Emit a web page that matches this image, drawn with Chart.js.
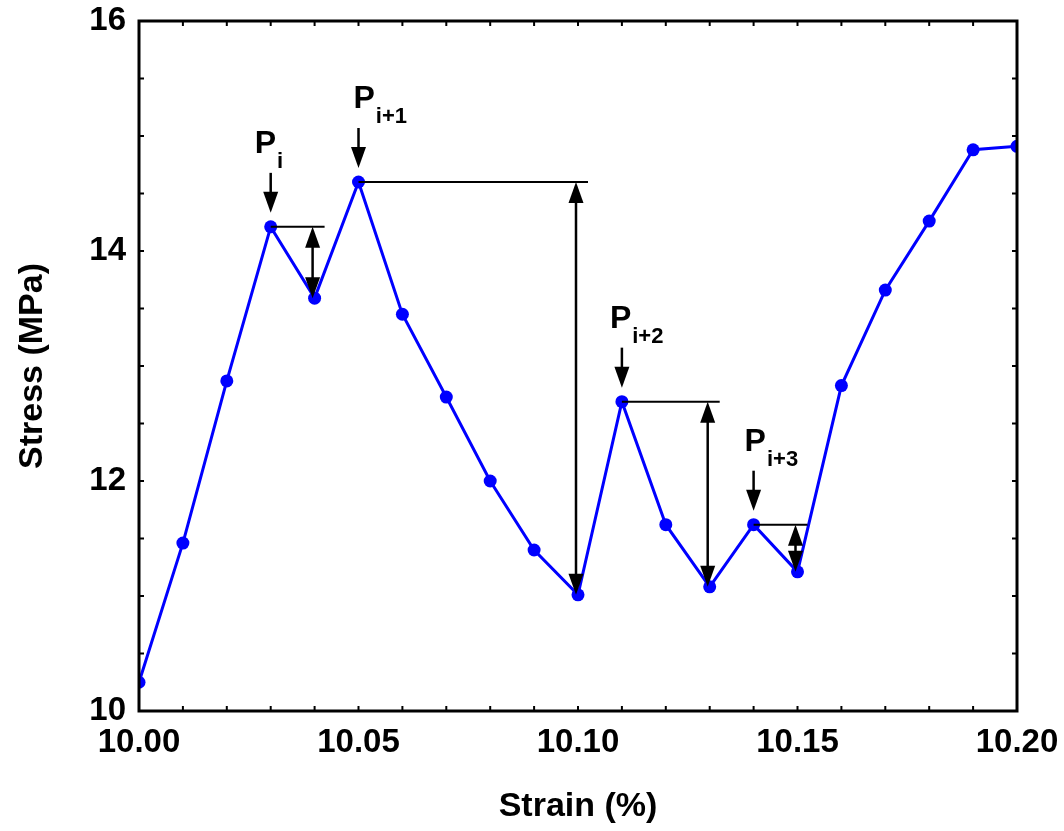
<!DOCTYPE html>
<html lang="en">
<head>
  <meta charset="UTF-8">
  <title>Stress vs Strain</title>
  <script src="https://cdn.jsdelivr.net/npm/chart.js"></script>
  <style>
    html, body { margin: 0; padding: 0; background: #fff; }
    #wrap { width: 1064px; height: 831px; }
  </style>
</head>
<body>
  <div id="wrap"><canvas id="stressChart" width="1064" height="831"></canvas></div>

  <script>
    // measured curve
    const strain = [10.00, 10.01, 10.02, 10.03, 10.04, 10.05, 10.06, 10.07, 10.08, 10.09, 10.10,
                    10.11, 10.12, 10.13, 10.14, 10.15, 10.16, 10.17, 10.18, 10.19, 10.20];
    const stress = [10.25, 11.46, 12.87, 14.21, 13.59, 14.60, 13.45, 12.73, 12.00, 11.40, 11.01,
                    12.69, 11.62, 11.08, 11.62, 11.21, 12.83, 13.66, 14.26, 14.88, 14.91];

    // stress drops: peak index -> following valley index
    const peakIdx = [3, 5, 11, 14];
    const valleyIdx = [4, 10, 13, 15];
    const peakSubs = ['i', 'i+1', 'i+2', 'i+3'];

    const xTicks = [10.00, 10.05, 10.10, 10.15, 10.20];
    const yTicks = [10, 12, 14, 16];

    const FONT = '"Liberation Sans", Arial, sans-serif';

    function drawArrowHead(ctx, x, y, dir) {
      // dir = 1 pointing down, -1 pointing up
      ctx.beginPath();
      ctx.moveTo(x, y);
      ctx.lineTo(x - 7.5, y - dir * 21);
      ctx.lineTo(x + 7.5, y - dir * 21);
      ctx.closePath();
      ctx.fill();
    }

    const framePlugin = {
      id: 'frame',
      afterDatasetsDraw(chart) {
        const { ctx, chartArea: a, scales: { x, y } } = chart;
        ctx.save();
        ctx.strokeStyle = '#000';
        ctx.fillStyle = '#000';

        // inside ticks on all four sides
        ctx.lineWidth = 2;
        for (let v = 10; v <= 10.2001; v += 0.01) {
          const px = x.getPixelForValue(v);
          ctx.beginPath();
          ctx.moveTo(px, a.bottom); ctx.lineTo(px, a.bottom - 5);
          ctx.moveTo(px, a.top); ctx.lineTo(px, a.top + 5);
          ctx.stroke();
        }
        for (let v = 10; v <= 16.001; v += 0.5) {
          const py = y.getPixelForValue(v);
          ctx.beginPath();
          ctx.moveTo(a.left, py); ctx.lineTo(a.left + 5, py);
          ctx.moveTo(a.right, py); ctx.lineTo(a.right - 5, py);
          ctx.stroke();
        }

        // drop annotations
        const labelOffset = [-16, -5, -12, -9];
        peakIdx.forEach((pi, k) => {
          const vi = valleyIdx[k];
          const px = x.getPixelForValue(strain[pi]);
          const py = y.getPixelForValue(stress[pi]);
          const vx = x.getPixelForValue(strain[vi]) - 2;
          const vy = y.getPixelForValue(stress[vi]);

          // horizontal reference line
          ctx.lineWidth = 2;
          ctx.beginPath();
          ctx.moveTo(px, py);
          ctx.lineTo(vx + 12, py);
          ctx.stroke();

          // double arrow for the drop
          ctx.lineWidth = 2.5;
          ctx.beginPath();
          ctx.moveTo(vx, py + 18);
          ctx.lineTo(vx, vy - 18);
          ctx.stroke();
          drawArrowHead(ctx, vx, py, -1);
          drawArrowHead(ctx, vx, vy, 1);

          // marker arrow above the peak
          const tip = py - 14;
          ctx.beginPath();
          ctx.moveTo(px, tip - 40);
          ctx.lineTo(px, tip - 18);
          ctx.stroke();
          drawArrowHead(ctx, px, tip, 1);

          // P_sub label
          const lx = px + labelOffset[k];
          const base = tip - 60;
          ctx.textAlign = 'left';
          ctx.textBaseline = 'alphabetic';
          ctx.font = 'bold 32px ' + FONT;
          ctx.fillText('P', lx, base);
          const w = ctx.measureText('P').width;
          ctx.font = 'bold 22px ' + FONT;
          ctx.fillText(peakSubs[k], lx + w + 1, base + 15);
        });

        // frame
        ctx.lineWidth = 3;
        ctx.strokeRect(a.left, a.top, a.right - a.left, a.bottom - a.top);
        ctx.restore();
      }
    };

    new Chart(document.getElementById('stressChart'), {
      type: 'line',
      data: {
        datasets: [{
          data: strain.map((s, i) => ({ x: s, y: stress[i] })),
          borderColor: '#0000ff',
          backgroundColor: '#0000ff',
          borderWidth: 3,
          pointRadius: 6.5,
          pointHoverRadius: 6.5,
          pointBorderWidth: 0,
          tension: 0,
          clip: 0
        }]
      },
      options: {
        responsive: false,
        animation: false,
        events: [],
        layout: { padding: { top: 21, right: 47, left: 0, bottom: 0 } },
        plugins: { legend: { display: false }, tooltip: { enabled: false } },
        scales: {
          x: {
            type: 'linear',
            min: 10, max: 10.2,
            afterBuildTicks(scale) { scale.ticks = xTicks.map(v => ({ value: v })); },
            afterFit(scale) {
              scale.height = 120;
              scale.paddingLeft = 0;
              scale.paddingRight = 0;
            },
            grid: { display: false, drawTicks: false },
            border: { display: false },
            ticks: {
              color: '#000',
              padding: 12,
              maxRotation: 0,
              font: { family: FONT, size: 33, weight: 'bold' },
              callback: v => v.toFixed(2)
            },
            title: {
              display: true,
              text: 'Strain (%)',
              color: '#000',
              padding: { top: 0, bottom: 4 },
              font: { family: FONT, size: 34, weight: 'bold' }
            }
          },
          y: {
            min: 10, max: 16,
            afterBuildTicks(scale) { scale.ticks = yTicks.map(v => ({ value: v })); },
            afterFit(scale) {
              scale.width = 139;
              scale.paddingTop = 0;
              scale.paddingBottom = 0;
            },
            grid: { display: false, drawTicks: false },
            border: { display: false },
            ticks: {
              color: '#000',
              padding: 13,
              font: { family: FONT, size: 33, weight: 'bold' }
            },
            title: {
              display: true,
              text: 'Stress (MPa)',
              color: '#000',
              padding: { top: 12, bottom: 0 },
              font: { family: FONT, size: 34, weight: 'bold' }
            }
          }
        }
      },
      plugins: [framePlugin]
    });
  </script>
</body>
</html>
